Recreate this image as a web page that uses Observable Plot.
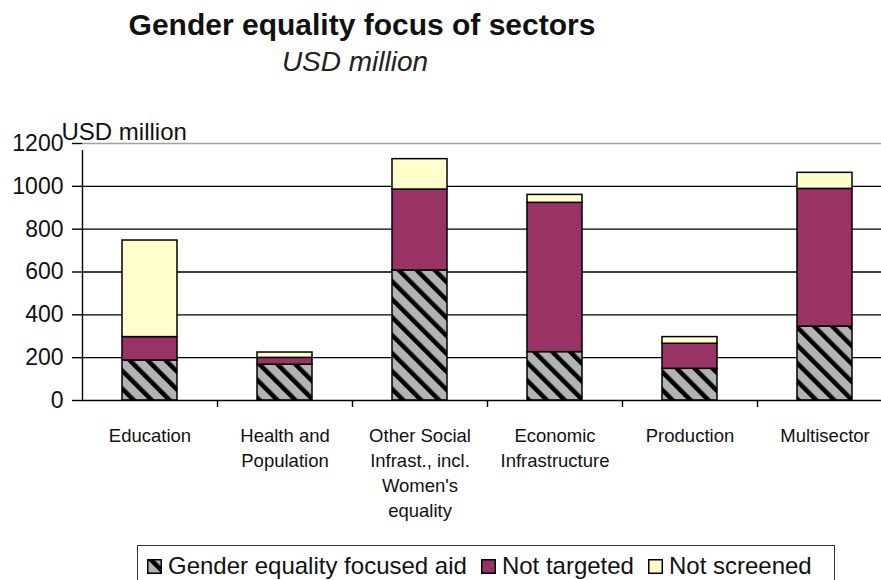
<!DOCTYPE html>
<html>
<head>
<meta charset="utf-8">
<script src="https://cdn.jsdelivr.net/npm/d3@7"></script>
<script src="https://cdn.jsdelivr.net/npm/@observablehq/plot@0.6"></script>
<style>
  body { margin: 0; background: #fff; font-family: "Liberation Sans", Arial, Helvetica, sans-serif; }
  #wrap { position: relative; width: 881px; height: 580px; overflow: hidden; background: #fff; }
  #head { position: relative; height: 90px; }
  #title { position: absolute; left: 0; width: 724px; top: 10px; text-align: center; font-weight: bold; font-size: 30px; line-height: 30px; color: #111; white-space: nowrap; }
  #sub { position: absolute; left: 0; width: 710px; top: 48px; text-align: center; font-style: italic; font-size: 28px; line-height: 28px; color: #222; white-space: nowrap; }
  #chart svg { display: block; }
  #legend { position: absolute; left: 137px; top: 545px; width: 698px; height: 44px; box-sizing: border-box; border: 1.5px solid #333; padding: 5px 0 0 9px; font-size: 24px; line-height: 30px; color: #111; white-space: nowrap; }
  .item { display: inline-block; margin-right: 14px; }
  .sw { display: inline-block; width: 15px; height: 15px; vertical-align: baseline; margin-right: 6px; }
</style>
</head>
<body>
<svg width="0" height="0" style="position:absolute">
  <defs>
    <pattern id="hatch" patternUnits="userSpaceOnUse" width="12.7" height="12.7" patternTransform="rotate(-45)">
      <rect width="12.7" height="12.7" fill="#b3b3b3"></rect>
      <rect width="4.5" height="12.7" fill="#000"></rect>
    </pattern>
  </defs>
</svg>
<div id="wrap">
  <div id="head">
    <div id="title">Gender equality focus of sectors</div>
    <div id="sub">USD million</div>
  </div>
  <div id="chart"></div>
  <div id="legend"></div>
</div>
<script>
const categories = ["Education", "Health and Population", "Other Social Infrast., incl. Women's equality", "Economic Infrastructure", "Production", "Multisector"];
const tickLabels = ["Education", "Health and\nPopulation", "Other Social\nInfrast., incl.\nWomen's\nequality", "Economic\nInfrastructure", "Production", "Multisector"];
const seriesNames = ["Gender equality focused aid", "Not targeted", "Not screened"];
const genderFocused = [187, 167, 607, 226, 148, 345];
const notTargeted = [109, 32, 378, 697, 117, 643];
const notScreened = [451, 25, 142, 37, 31, 75];
const yTicks = [0, 200, 400, 600, 800, 1000, 1200];
const seriesFills = ["url(#hatch)", "#993366", "#FFFFCC"];

const seriesValues = [genderFocused, notTargeted, notScreened];
const data = seriesNames.flatMap((s, si) => categories.map((c, ci) => ({category: c, series: s, value: seriesValues[si][ci]})));

const xRange = [82, 892];
const step = (xRange[1] - xRange[0]) / categories.length;

const chart = Plot.plot({
  width: 881,
  height: 440,
  marginTop: 53,
  marginBottom: 130,
  marginLeft: 82,
  marginRight: 0,
  style: {fontFamily: '"Liberation Sans", Arial, Helvetica, sans-serif', color: "#111", background: "#fff"},
  x: {domain: categories, range: xRange, paddingInner: 0.593, paddingOuter: 0.2965, label: null},
  y: {domain: [0, 1200], label: null},
  color: {domain: seriesNames, range: seriesFills},
  marks: [
    Plot.ruleY(yTicks.filter(v => v > 0 && v < 1200), {stroke: "#000", strokeWidth: 1.4}),
    Plot.ruleY([1200], {stroke: "#a0a0a0", strokeWidth: 1.4}),
    Plot.barY(data, {x: "category", y: "value", fill: "series", stroke: "#000", strokeWidth: 1.5}),
    Plot.ruleY([0], {stroke: "#000", strokeWidth: 1.4}),
    Plot.ruleX([categories[0]], {dx: -step / 2, y1: 0, y2: 1200, insetBottom: -7, stroke: "#000", strokeWidth: 1.4}),
    Plot.ruleX(categories.slice(1), {dx: -step / 2, y1: 0, y2: 0, insetBottom: -7, stroke: "#000", strokeWidth: 1.4}),
    Plot.axisY(yTicks, {tickSize: 10, tickPadding: 9, fontSize: 23, stroke: "#000", strokeWidth: 1.4, tickFormat: d => String(d), label: null}),
    Plot.axisX({tickSize: 0, tickPadding: 24, fontSize: 18.5, lineHeight: 1.35, tickFormat: d => tickLabels[categories.indexOf(d)], label: null}),
    Plot.text(["USD million"], {frameAnchor: "top-left", dx: -21, dy: -4, textAnchor: "start", lineAnchor: "bottom", fontSize: 24})
  ]
});
document.getElementById("chart").appendChild(chart);

const legend = document.getElementById("legend");
seriesNames.forEach((s, i) => {
  const item = document.createElement("span");
  item.className = "item";
  item.innerHTML = `<svg class="sw" viewBox="0 0 15 15"><rect x="0.75" y="0.75" width="13.5" height="13.5" fill="${seriesFills[i]}" stroke="#000" stroke-width="1.5"></rect></svg>${s}`;
  legend.appendChild(item);
});
</script>
</body>
</html>
